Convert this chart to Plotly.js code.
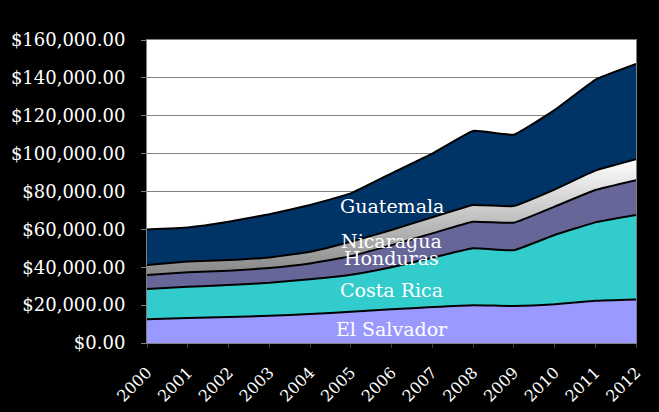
<!DOCTYPE html>
<html>
<head>
<meta charset="utf-8">
<script src="https://cdn.plot.ly/plotly-3.0.1.min.js"></script>
<style>
html,body{margin:0;padding:0;background:#000;}
#chart{width:659px;height:412px;}
</style>
</head>
<body>
<div id="chart"></div>
<script>
var years = [2000,2001,2002,2003,2004,2005,2006,2007,2008,2009,2010,2011,2012];
var elSalvador = [12500,13200,13700,14400,15300,16500,17800,19000,20000,19500,20400,22300,23000];
var costaRica  = [16000,16500,16900,17400,18300,19500,22200,26000,30000,29500,36600,41400,44600];
var honduras   = [7400,7600,7600,7800,8400,9800,11700,12900,14000,14500,15000,17100,18400];
var nicaragua  = [5300,5700,5600,5600,6200,7700,8000,8500,8900,8800,9000,10200,11000];
var guatemala  = [18800,18000,20200,22800,24700,25500,29900,33600,39100,37700,42000,48000,50300];
var seriesNames = ["El Salvador","Costa Rica","Honduras","Nicaragua","Guatemala"];
var yTicks = [0,20000,40000,60000,80000,100000,120000,140000,160000];

var font = "DejaVu Serif, Liberation Serif, serif";
var lineStyle = {color:"#000", width:2, shape:"spline", smoothing:0.3};

function tr(name, y, color){
  return {x:years, y:y, name:name, type:"scatter", mode:"lines", stackgroup:"one",
          fillcolor:color, line:lineStyle, hoverinfo:"skip"};
}
var traces = [
  tr(seriesNames[0], elSalvador, "#9999FF"),
  tr(seriesNames[1], costaRica, "#33CCCC"),
  tr(seriesNames[2], honduras, "#666699"),
  tr(seriesNames[3], nicaragua, "#969696"),
  tr(seriesNames[4], guatemala, "#003366")
];
traces[3].fillgradient = {type:"vertical", start:38000, stop:97000,
  colorscale:[[0,"#8a8a8a"],[1,"#ffffff"]]};

function ann(text, y){
  return {x:2006, y:y, xref:"x", yref:"y", text:text, showarrow:false,
          font:{family:font, size:19, color:"#fff"}};
}

var layout = {
  width:659, height:412,
  paper_bgcolor:"#000", plot_bgcolor:"#fff",
  margin:{l:147, r:23, t:40, b:69},
  showlegend:false,
  font:{family:font, color:"#fff"},
  xaxis:{range:[2000,2012], tickmode:"array", tickvals:years, ticktext:years.map(String),
         tickangle:-45, tickfont:{family:font, size:16, color:"#fff"},
         showgrid:false, zeroline:false, showline:true, mirror:true, linecolor:"#808080", linewidth:1,
         ticks:"outside", ticklen:4, tickcolor:"#404040", ticklabelstandoff:9},
  yaxis:{range:[0,160000], tickmode:"array", tickvals:yTicks, tickformat:"$,.2f",
         tickfont:{family:font, size:18, color:"#fff"},
         showgrid:true, gridcolor:"#808080", gridwidth:1, zeroline:false,
         showline:true, mirror:true, linecolor:"#808080", linewidth:1,
         ticks:"outside", ticklen:5, tickcolor:"#808080", ticklabelstandoff:12},
  annotations:[
    ann("Guatemala", 72300),
    ann("Nicaragua", 53900),
    ann("Honduras", 45000),
    ann("Costa Rica", 28000),
    ann("El Salvador", 7300)
  ]
};
Plotly.newPlot("chart", traces, layout, {displayModeBar:false, staticPlot:true});
</script>
</body>
</html>
